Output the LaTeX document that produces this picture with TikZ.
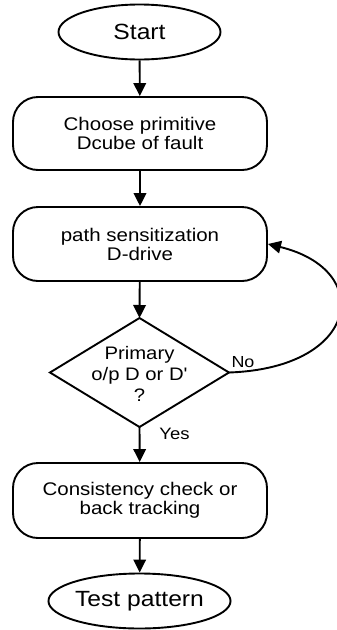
\documentclass[tikz,border=0pt]{standalone}
\usepackage{fontspec}
% plain family: no TeX mapping, so ' stays a straight quote
\newfontfamily\flowfont[FakeStretch=1.12]{Liberation Sans}
\usetikzlibrary{shapes.geometric,arrows.meta}

\tikzset{
  every path/.style={line width=1.9pt},
  flowarrow/.style={-{Triangle[length=13pt,width=12.5pt]}},
  terminal/.style={draw, ellipse, minimum width=162pt, minimum height=55pt,
    inner sep=0pt, font=\flowfont\fontsize{22}{24}\selectfont},
  stepbox/.style={draw, rounded corners=25pt, minimum width=254pt,
    minimum height=74pt, inner sep=0pt, align=center,
    font=\flowfont\fontsize{18.3}{19}\selectfont},
  decision/.style={align=center, inner sep=0pt,
    font=\flowfont\fontsize{18.1}{21}\selectfont},
  branchlabel/.style={inner sep=0pt},
}

\begin{document}
\begin{tikzpicture}[x=1pt, y=-1pt]
  \useasboundingbox (0,0) rectangle (337,630);

  % main flow
  \node[terminal] (start) at (139.5,32) {Start};
  \node[stepbox, minimum height=73pt] (choose) at (140,133.5)
    {Choose primitive\\Dcube of fault};
  \node[stepbox] (sens) at (140,244) {path sensitization\\D-drive};

  % decision diamond
  \coordinate (dtop)   at (139.5,318);
  \coordinate (dright) at (229,372.5);
  \coordinate (dbot)   at (139.5,427);
  \coordinate (dleft)  at (50,372.5);
  \draw[line join=miter] (dtop) -- (dright) -- (dbot) -- (dleft) -- cycle;
  \node[decision] (dtext) at (139.5,374) {Primary\\o/p D or D'\\?};

  \node[stepbox, minimum height=75pt] (check) at (140,500.5)
    {Consistency check or\\back tracking};
  \node[terminal] (test) at (139.5,601) {Test pattern};

  % connectors
  \draw[flowarrow] (start) -- (choose);
  \draw[flowarrow] (choose) -- (sens);
  \draw[flowarrow] (sens) -- (dtop);
  \draw[flowarrow] (dbot) -- (check);
  \draw[flowarrow] (check) -- (test);
  \draw[flowarrow] (dright) .. controls (360,368) and (375,270) .. (sens.east);

  % branch labels
  \node[branchlabel, font=\flowfont\fontsize{16}{18}\selectfont] (nolab) at (243,362) {No};
  \node[branchlabel, font=\flowfont\fontsize{16.5}{18}\selectfont] (yeslab) at (174.5,434) {Yes};
\end{tikzpicture}
\end{document}
